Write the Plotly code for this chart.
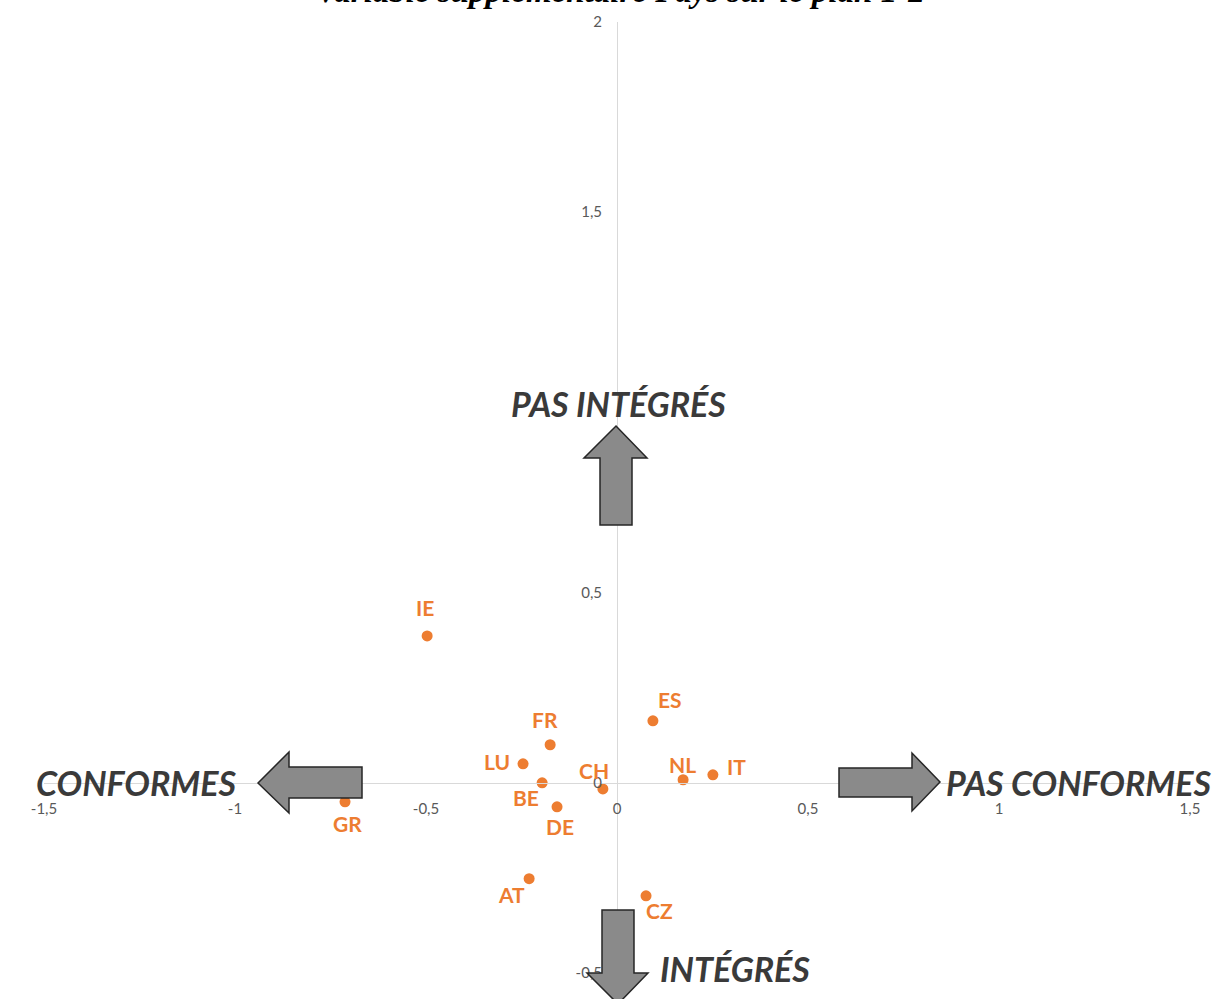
import plotly.graph_objects as go

# ---- data ----
countries = ["IE", "ES", "FR", "LU", "BE", "CH", "NL", "IT", "DE", "GR", "AT", "CZ"]
dim1 = [-0.497, 0.094, -0.175, -0.246, -0.196, -0.037, 0.173, 0.251, -0.157, -0.712, -0.230, 0.076]
dim2 = [0.386, 0.163, 0.100, 0.050, 0.000, -0.016, 0.008, 0.021, -0.063, -0.050, -0.252, -0.297]
x_ticks = [-1.5, -1, -0.5, 0, 0.5, 1, 1.5]
x_tick_labels = ["-1,5", "-1", "-0,5", "0", "0,5", "1", "1,5"]
y_ticks = [-0.5, 0, 0.5, 1.5, 2]
y_tick_labels = ["-0,5", "0", "0,5", "1,5", "2"]
title_text = "Variable supplémentaire Pays sur le plan 1-2"
dir_labels = ["CONFORMES", "PAS CONFORMES", "PAS INTÉGRÉS", "INTÉGRÉS"]

# ---- layout geometry (pixels) ----
W, H = 1214, 999
L, R, T, B = 44, 24, 22, 26
PW, PH = W - L - R, H - T - B


def px(x):
    return (x - L) / PW


def py(y):
    return (H - B - y) / PH


def path(points):
    return "M " + " L ".join(f"{px(a):.5f},{py(b):.5f}" for a, b in points) + " Z"


ORANGE = "#ED7D31"

# label offsets (pixels) for each country label
label_shift = {
    "IE": (-2, 28), "ES": (17, 21), "FR": (-5, 25), "LU": (-26, 2),
    "BE": (-16, -15), "CH": (-9, 18), "NL": (-1, 15), "IT": (24, 8),
    "DE": (3, -20), "GR": (2, -22), "AT": (-18, -16), "CZ": (13, -15),
}

fig = go.Figure()
fig.add_trace(go.Scatter(
    x=dim1, y=dim2, mode="markers",
    marker=dict(size=11, color=ORANGE),
    hoverinfo="skip", showlegend=False,
))

annotations = []
for c, xv, yv in zip(countries, dim1, dim2):
    dx, dy = label_shift[c]
    annotations.append(dict(
        x=xv, y=yv, xref="x", yref="y", text=c, showarrow=False,
        xshift=dx, yshift=dy,
        font=dict(family="Lato", size=21, color=ORANGE, weight="bold"),
    ))

dir_font = dict(family="Lato", size=34, color="#3A3A3A", weight="bold", style="italic")
dir_pos = [(136, 782), (1078, 782), (618, 404), (735, 968)]
for txt, (ax_, ay_) in zip(dir_labels, dir_pos):
    annotations.append(dict(
        x=px(ax_), y=py(ay_), xref="paper", yref="paper", text=txt,
        showarrow=False, xanchor="center", yanchor="middle", font=dir_font,
    ))

annotations.append(dict(
    x=px(620), y=py(-9), xref="paper", yref="paper", text=title_text,
    showarrow=False, xanchor="center", yanchor="middle",
    font=dict(family="Liberation Serif", size=33, color="#000000",
              weight="bold", style="italic"),
))

arrow_style = dict(type="path", xref="paper", yref="paper",
                   fillcolor="#8A8A8A", line=dict(color="#262626", width=1.5), layer="above")
shapes = [
    # left arrow
    dict(path=path([(258, 783), (289, 752), (289, 767), (362, 767), (362, 798),
                    (289, 798), (289, 813)]), **arrow_style),
    # right arrow
    dict(path=path([(940, 782), (912, 753), (912, 768), (839, 768), (839, 797),
                    (912, 797), (912, 811)]), **arrow_style),
    # up arrow
    dict(path=path([(616, 426), (647, 458), (632, 458), (632, 525), (600, 525),
                    (600, 458), (584, 458)]), **arrow_style),
    # down arrow
    dict(path=path([(618, 1004), (648, 973), (634, 973), (634, 910), (602, 910),
                    (602, 973), (587, 973)]), **arrow_style),
]

tickfont = dict(family="Lato", size=15, color="#595959")
fig.update_layout(
    width=W, height=H,
    margin=dict(l=L, r=R, t=T, b=B, pad=0),
    paper_bgcolor="white", plot_bgcolor="white",
    separators=", ",
    xaxis=dict(range=[-1.5, 1.5], anchor="free", position=0.2,
               showline=True, linecolor="#D9D9D9", linewidth=1,
               showgrid=False, zeroline=False, ticks="",
               tickvals=x_ticks, ticktext=x_tick_labels,
               tickfont=tickfont, ticklabelstandoff=12),
    yaxis=dict(range=[-0.5, 2], anchor="free", position=0.5,
               showline=True, linecolor="#D9D9D9", linewidth=1,
               showgrid=False, zeroline=False, ticks="",
               tickvals=y_ticks, ticktext=y_tick_labels,
               tickfont=tickfont, ticklabelstandoff=12),
    annotations=annotations,
    shapes=shapes,
)

fig.write_html(
    "out.html",
    config={"displayModeBar": False},
    post_script="document.body.style.margin='0';document.body.style.overflow='hidden';",
)
